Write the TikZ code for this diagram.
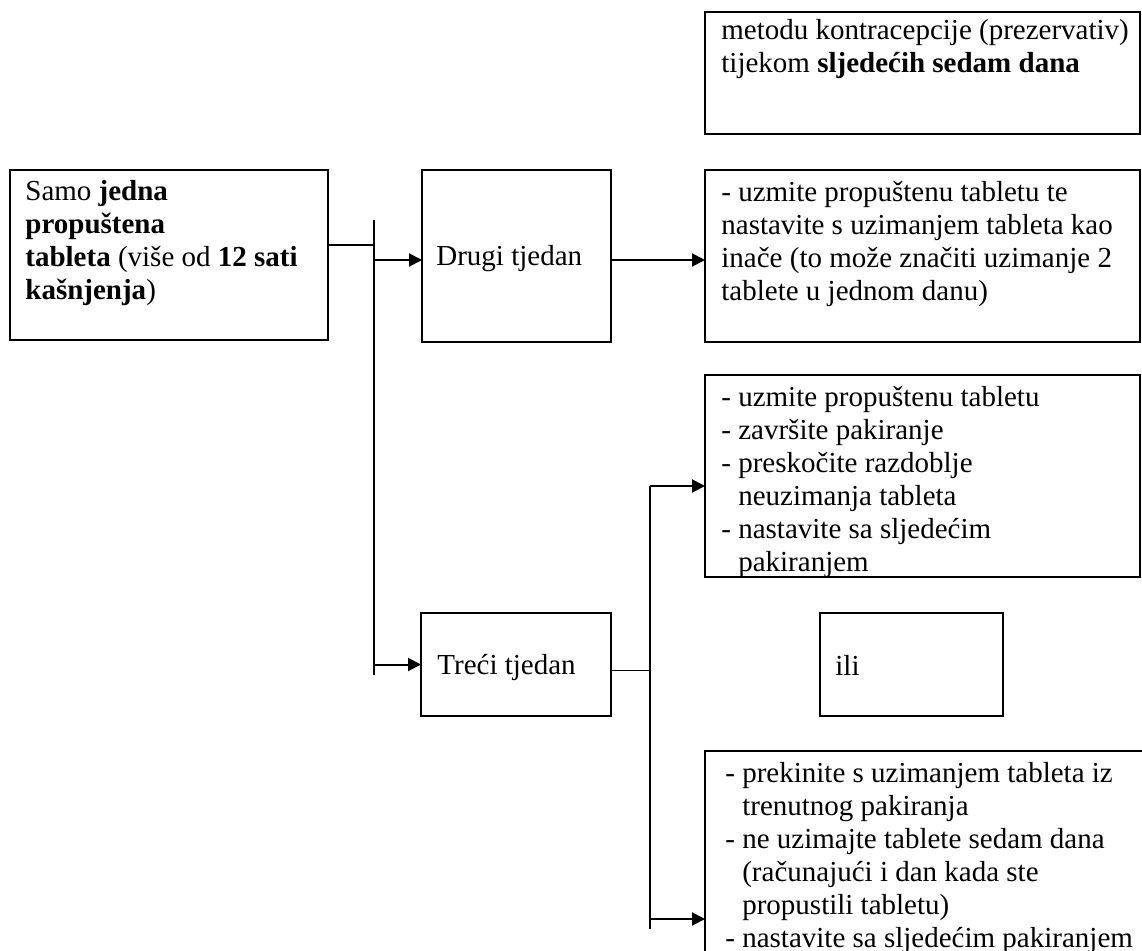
\documentclass[tikz,border=0pt]{standalone}
\usepackage{fontspec}
\setmainfont{Liberation Serif}
\usetikzlibrary{arrows.meta, calc}

\tikzset{
  okvir/.style={draw, line width=1pt, inner sep=0pt, outer sep=0pt, anchor=north west},
  tekst/.style={anchor=north west, align=left, inner sep=0pt, font=\fontsize{14.5}{16.5}\selectfont},
  natpis/.style={anchor=west, inner sep=0pt, font=\fontsize{14.5}{16.5}\selectfont},
  strelica/.style={line width=1pt, -{Triangle[length=6.5pt,width=6.5pt]}},
  crta/.style={line width=0.8pt},
}
\newcommand{\uvuci}{\phantom{- }}

\begin{document}
\begin{tikzpicture}[x=0.5pt, y=-0.5pt]
  \useasboundingbox (0,0) rectangle (1142,950);

  % okviri
  \node[okvir, minimum width=217.5pt, minimum height=61pt] (gore) at (705,12) {};
  \node[okvir, minimum width=159pt, minimum height=85pt] (glavni) at (10,170) {};
  \node[okvir, minimum width=94.5pt, minimum height=86pt] (drugi) at (422,170) {};
  \node[okvir, minimum width=217.5pt, minimum height=86pt] (pravilo) at (705,170) {};
  \node[okvir, minimum width=217.5pt, minimum height=101pt] (lista1) at (705,375) {};
  \node[okvir, minimum width=95pt, minimum height=51.5pt] (treci) at (421,613) {};
  \node[okvir, minimum width=91.5pt, minimum height=51.5pt] (ili) at (820,613) {};
  \node[okvir, minimum width=230pt, minimum height=130pt] (lista2) at (705,751) {};

  % tekst u okvirima
  \node[tekst] (gore-t) at ($(gore.north west)+(16,4)$)
    {\strut metodu kontracepcije (prezervativ)\\
     tijekom \textbf{sljedećih sedam dana}};
  \node[tekst] (glavni-t) at ($(glavni.north west)+(15,7)$)
    {\strut Samo \textbf{jedna}\\
     \textbf{propuštena}\\
     \textbf{tableta} (više od \textbf{12 sati}\\
     \textbf{kašnjenja})};
  \node[natpis] (drugi-t) at ($(drugi.west)+(14,3)$) {Drugi tjedan};
  \node[tekst] (pravilo-t) at ($(pravilo.north west)+(16,8)$)
    {\strut - uzmite propuštenu tabletu te\\
     nastavite s uzimanjem tableta kao\\
     inače (to može značiti uzimanje 2\\
     tablete u jednom danu)};
  \node[tekst] (lista1-t) at ($(lista1.north west)+(16,8)$)
    {\strut - uzmite propuštenu tabletu\\
     - završite pakiranje\\
     - preskočite razdoblje\\
     \uvuci neuzimanja tableta\\
     - nastavite sa sljedećim\\
     \uvuci pakiranjem};
  \node[natpis] (treci-t) at ($(treci.west)+(16,3)$) {Treći tjedan};
  \node[natpis] (ili-t) at ($(ili.west)+(15,1)$) {ili};
  \node[tekst] (lista2-t) at ($(lista2.north west)+(20,8)$)
    {\strut - prekinite s uzimanjem tableta iz\\
     \uvuci trenutnog pakiranja\\
     - ne uzimajte tablete sedam dana\\
     \uvuci (računajući i dan kada ste\\
     \uvuci propustili tabletu)\\
     - nastavite sa sljedećim pakiranjem};

  % sabirnice
  \coordinate (sab-g) at (374,220);
  \coordinate (sab-d) at (374,675);
  \coordinate (rac-g) at (650,486);
  \coordinate (rac-s) at (650,919);
  \coordinate (rac-d) at (650,929);

  % veze
  \draw[crta] (sab-g) -- (sab-d);
  \draw[crta] ([yshift=5pt]glavni.east) -- ([yshift=5pt]glavni.east -| sab-g);
  \draw[strelica] ([yshift=-2pt]drugi.west -| sab-g) -- ([yshift=-2pt]drugi.west);
  \draw[strelica] ([yshift=-2pt]drugi.east) -- ([yshift=-2pt]pravilo.west);
  \draw[strelica] (treci.west -| sab-g) -- (treci.west);
  \draw[crta] ([yshift=-3pt]treci.east) -- ([yshift=-3pt]treci.east -| rac-g);
  \draw[crta] (rac-g) -- (rac-d);
  \draw[strelica] (rac-g) -- (rac-g -| lista1.west);
  \draw[strelica] (rac-s) -- (rac-s -| lista2.west);
\end{tikzpicture}
\end{document}
